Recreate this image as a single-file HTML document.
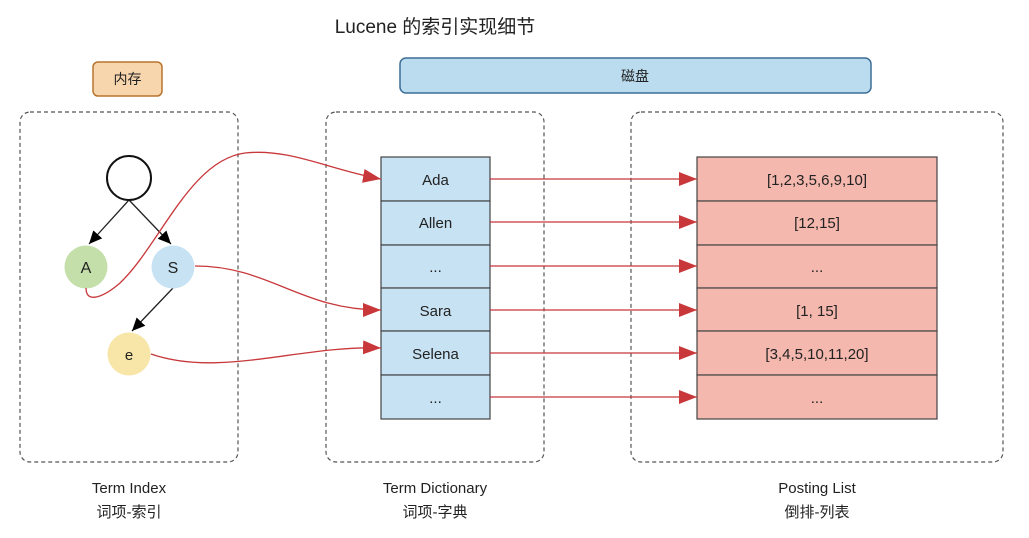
<!DOCTYPE html>
<html><head><meta charset="utf-8"><style>
html,body{margin:0;padding:0;background:#fff;width:1029px;height:538px;overflow:hidden}
svg text{font-family:"Liberation Sans","Noto Sans CJK SC",sans-serif;fill:#222}
</style></head><body>
<svg width="1029" height="538" viewBox="0 0 1029 538" xmlns="http://www.w3.org/2000/svg">
<defs>
<marker id="r" markerWidth="10" markerHeight="8" refX="9" refY="4" orient="auto" markerUnits="userSpaceOnUse"><path d="M0,0 L10,4 L0,8 Z" fill="#c8383b" transform="scale(1.8) translate(-5,-2)"/></marker>
<marker id="rr" markerWidth="20" markerHeight="14" refX="18" refY="7" orient="auto" markerUnits="userSpaceOnUse"><path d="M0,0 L18,7 L0,14 Z" fill="#c8383b"/></marker>
<marker id="b" markerWidth="14" markerHeight="14" refX="13" refY="7" orient="auto" markerUnits="userSpaceOnUse"><path d="M0,1 L13,7 L0,13 Z" fill="#000"/></marker>
</defs>
<text x="435" y="33" font-size="19" text-anchor="middle">Lucene 的索引实现细节</text>
<rect x="93" y="62" width="69" height="34" rx="5" fill="#f7d6ad" stroke="#b8732f" stroke-width="1.5"/>
<text x="127.5" y="84" font-size="14" text-anchor="middle">内存</text>
<rect x="400" y="58" width="471" height="35" rx="6" fill="#bbdcef" stroke="#3d6e96" stroke-width="1.5"/>
<text x="635" y="81" font-size="14" text-anchor="middle">磁盘</text>
<g fill="none" stroke="#555" stroke-dasharray="4,3" stroke-width="1.2">
<rect x="20" y="112" width="218" height="350" rx="10"/>
<rect x="326" y="112" width="218" height="350" rx="10"/>
<rect x="631" y="112" width="372" height="350" rx="10"/>
</g>
<!-- tree -->
<line x1="129" y1="200" x2="89" y2="244" stroke="#222" stroke-width="1.3" marker-end="url(#b)"/>
<line x1="129" y1="200" x2="171" y2="244" stroke="#222" stroke-width="1.3" marker-end="url(#b)"/>
<line x1="173" y1="288" x2="132" y2="331" stroke="#222" stroke-width="1.3" marker-end="url(#b)"/>
<circle cx="129" cy="178" r="22" fill="#fff" stroke="#111" stroke-width="2"/>
<circle cx="86" cy="267" r="21.5" fill="#c4dfa9"/>
<circle cx="173" cy="267" r="21.5" fill="#c7e2f3"/>
<circle cx="129" cy="354" r="21.5" fill="#f8e6a8"/>
<text x="86" y="273" font-size="16" text-anchor="middle">A</text>
<text x="173" y="273" font-size="16" text-anchor="middle">S</text>
<text x="129" y="360" font-size="15" text-anchor="middle">e</text>
<!-- dictionary -->
<g stroke="#444" stroke-width="1.2" fill="#c7e2f3">
<rect x="381" y="157" width="109" height="44"/>
<rect x="381" y="201" width="109" height="44"/>
<rect x="381" y="245" width="109" height="43"/>
<rect x="381" y="288" width="109" height="43"/>
<rect x="381" y="331" width="109" height="44"/>
<rect x="381" y="375" width="109" height="44"/>
</g>
<g font-size="15" text-anchor="middle">
<text x="435.5" y="185">Ada</text>
<text x="435.5" y="228">Allen</text>
<text x="435.5" y="272">...</text>
<text x="435.5" y="316">Sara</text>
<text x="435.5" y="359">Selena</text>
<text x="435.5" y="403">...</text>
</g>
<!-- posting -->
<g stroke="#444" stroke-width="1.2" fill="#f4b8ae">
<rect x="697" y="157" width="240" height="44"/>
<rect x="697" y="201" width="240" height="44"/>
<rect x="697" y="245" width="240" height="43"/>
<rect x="697" y="288" width="240" height="43"/>
<rect x="697" y="331" width="240" height="44"/>
<rect x="697" y="375" width="240" height="44"/>
</g>
<g font-size="15" text-anchor="middle">
<text x="817" y="185">[1,2,3,5,6,9,10]</text>
<text x="817" y="228">[12,15]</text>
<text x="817" y="272">...</text>
<text x="817" y="316">[1, 15]</text>
<text x="817" y="359">[3,4,5,10,11,20]</text>
<text x="817" y="403">...</text>
</g>
<!-- arrows -->
<g stroke="#c8383b" stroke-width="1.3" fill="none" marker-end="url(#rr)">
<line x1="490" y1="179" x2="697" y2="179"/>
<line x1="490" y1="222" x2="697" y2="222"/>
<line x1="490" y1="266" x2="697" y2="266"/>
<line x1="490" y1="310" x2="697" y2="310"/>
<line x1="490" y1="353" x2="697" y2="353"/>
<line x1="490" y1="397" x2="697" y2="397"/>
<path d="M86,288 C86,305 105,296 120,283 C160,245 190,160 245,153 C290,148 330,170 381,179"/>
<path d="M195,266 C270,266 300,310 381,310"/>
<path d="M151,354 C220,378 300,345 381,348"/>
</g>
<g font-size="15" text-anchor="middle">
<text x="129" y="493">Term Index</text>
<text x="129" y="517">词项-索引</text>
<text x="435" y="493">Term Dictionary</text>
<text x="435" y="517">词项-字典</text>
<text x="817" y="493">Posting List</text>
<text x="817" y="517">倒排-列表</text>
</g>
</svg>
</body></html>
